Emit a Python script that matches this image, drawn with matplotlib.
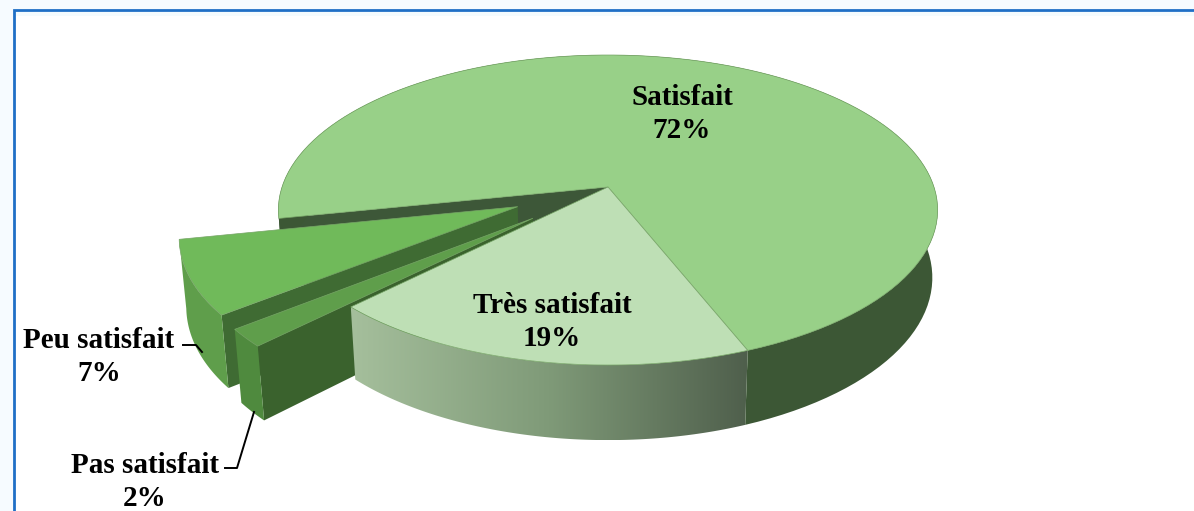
import numpy as np
import matplotlib
matplotlib.use("Agg")
import matplotlib.pyplot as plt
from matplotlib.colors import LinearSegmentedColormap
from matplotlib.patches import Polygon

# Data
categories = ["Satisfait", "Très satisfait", "Pas satisfait", "Peu satisfait"]
values = [72.2, 18.5, 1.8, 7.5]
labels_pct = [72, 19, 2, 7]
explode = [0.0, 0.0, 0.30, 0.30]

# Colours: top, outer wall, radial wall
top_colors = ["#98d088", "#bedfb5", "#5f9e4b", "#70ba5a"]
wall_colors = ["#3c5735", "#808080", "#4f8a3e", "#5f9e4b"]
cut_colors = ["#3d5738", "#a3bc9a", "#3a622d", "#3f6b33"]

# Label placement in pixels
label_xy = [(682, 114), (552, 322), (145, 482), (99, 357)]

# Projection of the disc (pixels)
CX, CY = 608, 187
A, B = 326, 151.6
K = 0.1484   # perspective
DK = 0.016   # perspective over the depth
D = 68.0     # depth of the pie
START = 258.4  # degrees clockwise from the top


def project(x, y, bottom=False):
    w = 1 + K * y
    if bottom:
        w = w + DK
        return CX + A * x / w, CY - B * y / w + D / w
    return CX + A * x / w, CY - B * y / w


def rim(a1, a2, off, bottom=False):
    t = np.radians(np.linspace(a1, a2, 120))
    return project(off[0] + np.sin(t), off[1] + np.cos(t), bottom)


fig = plt.figure(figsize=(11.94, 5.11), dpi=100, facecolor="#f6fbff")
ax = fig.add_axes([0, 0, 1, 1])
ax.set_axis_off()

# Frame of the picture
ax.fill_between([15, 1194], 12, 511, color="white", lw=0, zorder=0)
ax.fill_between([15, 1194], 12, 16, color="#f4fbfe", lw=0, zorder=0.1)
ax.plot([13.5, 13.5, 1194], [511, 10, 10], color="#1f6fc6", lw=2, zorder=0.2,
        solid_joinstyle="miter")

# Slice angles from the values
sweeps = np.array(values) / sum(values) * 360
starts = START + np.concatenate(([0], np.cumsum(sweeps)[:-1]))

grad_cmap = LinearSegmentedColormap.from_list("wall", ["#a5bf9c", "#7f9a78", "#4f5f4c"])
edge = "#76a566"

slices = []
for i, name in enumerate(categories):
    a1, a2 = starts[i], starts[i] + sweeps[i]
    mid = np.radians((a1 + a2) / 2)
    off = (explode[i] * np.sin(mid), explode[i] * np.cos(mid))
    slices.append((i, a1, a2, off))

# Back to front: Satisfait, Peu satisfait, Pas satisfait, Très satisfait
z = 1
for i, a1, a2, off in [slices[0], slices[3], slices[2], slices[1]]:
    tx, ty = rim(a1, a2, off)
    bx, by = rim(a1, a2, off, True)
    ax0, ay0 = project(off[0], off[1])
    bx0, by0 = project(off[0], off[1], True)

    # Radial wall on the side facing the viewer
    ax.fill([ax0, tx[0], bx[0], bx0], [ay0, ty[0], by[0], by0],
            color=cut_colors[i], lw=0, zorder=z)

    # Outer wall
    wall_x = np.concatenate((tx, bx[::-1]))
    wall_y = np.concatenate((ty, by[::-1]))
    if categories[i] == "Très satisfait":
        patch = Polygon(np.column_stack((wall_x, wall_y)), closed=True,
                        facecolor="none", edgecolor="none")
        ax.add_patch(patch)
        img = ax.imshow(np.linspace(0, 1, 256).reshape(1, -1), cmap=grad_cmap,
                        extent=(wall_x.min(), wall_x.max(), wall_y.max(), wall_y.min()),
                        aspect="auto", zorder=z + 0.1)
        img.set_clip_path(patch)
    else:
        ax.fill(wall_x, wall_y, color=wall_colors[i], lw=0, zorder=z + 0.1)

    # Top face
    ax.fill(np.concatenate(([ax0], tx)), np.concatenate(([ay0], ty)),
            facecolor=top_colors[i], edgecolor=edge, lw=0.5, zorder=z + 0.2)
    z += 1

# Leader lines
ax.plot([183, 196, 202], [345, 345, 352], color="black", lw=1.4, zorder=8)
ax.plot([225, 237, 254], [468, 468, 412], color="black", lw=1.4, zorder=8)

for name, pct, (lx, ly) in zip(categories, labels_pct, label_xy):
    ax.text(lx, ly, f"{name}\n{pct}%", ha="center", va="center", fontsize=21,
            fontweight="bold", family="Liberation Serif", color="black",
            linespacing=1.3, zorder=9)

ax.set_xlim(0, 1194)
ax.set_ylim(511, 0)
fig.savefig("out.png", dpi=100, facecolor=fig.get_facecolor())
